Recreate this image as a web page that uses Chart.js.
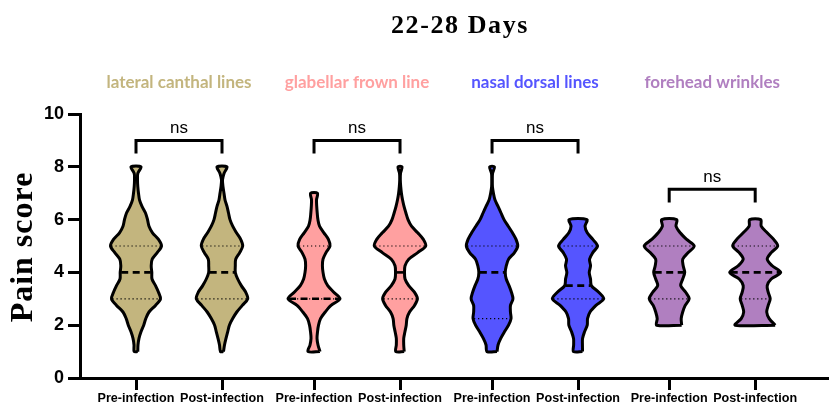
<!DOCTYPE html>
<html>
<head>
<meta charset="utf-8">
<script src="https://cdn.jsdelivr.net/npm/chart.js@4.4.1/dist/chart.umd.min.js"></script>
<style>
  html, body { margin: 0; padding: 0; background: #fff; }
  canvas { display: block; }
</style>
</head>
<body>
<canvas id="c" width="829" height="405"></canvas>
<script>
// ---- chart text ----
const chartTitle = '22-28 Days';
const yTitle = 'Pain score';
const groups = ['lateral canthal lines', 'glabellar frown line', 'nasal dorsal lines', 'forehead wrinkles'];
const groupColors = ['#c3b57e', '#ffa0a0', '#5555ff', '#b07fc0'];
const conditions = ['Pre-infection', 'Post-infection'];
const significance = ['ns', 'ns', 'ns', 'ns'];

// ---- axes ----
const xPositions = [1, 2, 3.07, 4.07, 5.14, 6.14, 7.2, 8.2];
const yTicks = [0, 2, 4, 6, 8, 10];

// ---- violin densities: half-width at each pain-score level from 1 to 8 in steps of 0.25
//      (null = outside the observed range) ----
const levels = [1, 1.25, 1.5, 1.75, 2, 2.25, 2.5, 2.75, 3, 3.25, 3.5, 3.75, 4, 4.25, 4.5,
                4.75, 5, 5.25, 5.5, 5.75, 6, 6.25, 6.5, 6.75, 7, 7.25, 7.5, 7.75, 8];
const lateralPre    = [1.8, 2, 3, 5, 7.7, 9.8, 13, 19.5, 24.5, 22.5, 19.5, 16, 15.8, 15.2, 16.2,
                       21.2, 25.5, 22.5, 16.5, 13, 11.5, 9.5, 6, 3.5, 2.5, 1.8, 1.5, 1.8, 5];
const lateralPost   = [1.5, 2.5, 4, 5.7, 7.4, 10.7, 14.8, 20.3, 25.7, 23.7, 19.3, 15.7, 13.3, 13.3, 13.7,
                       17.7, 20.7, 18.7, 14.5, 10.7, 8, 6.5, 5, 3, 2, 1, 0.5, 2, 5];
const glabellarPre  = [6, 4, 3, 3.5, 4.5, 6.5, 11.2, 17, 26, 19.8, 13.7, 10.4, 9, 8.4, 9,
                       12, 16, 14.4, 9.9, 5.5, 3.9, 3.2, 2.7, 2.5, 3.4, null, null, null, null];
const glabellarPost = [4.2, 3.7, 3.7, 4.9, 6.2, 6.9, 9.5, 14.5, 17.4, 14.4, 8.7, 5, 4.5, 5, 8.7,
                       17.7, 25.7, 23.3, 17.7, 11.5, 8, 5.9, 4, 2.5, 1.4, 0.7, 0.3, 0.5, 2];
const nasalPre      = [5, 6, 8.7, 12.4, 16.5, 19, 18.4, 18.4, 20.9, 19.4, 17, 14.2, 13.2, 14.2, 16.5,
                       22.4, 25.7, 24, 20.4, 16.2, 12, 9, 6, 2.9, 1.4, 0.4, 0.3, 0.5, 2.4];
const nasalPost     = [4.5, 4.4, 4.5, 6.5, 9.2, 9.5, 12, 17.9, 25.7, 20.7, 13.3, 12.5, 11.2, 12.5, 11.5,
                       14.8, 19.5, 14.8, 9.2, 7, 8.9, null, null, null, null, null, null, null, null];
const foreheadPre   = [null, null, null, null, 12.5, 12, 13.5, 16, 20, 16.5, 11.5, 13.5, 15.5, 14, 13.5,
                       19, 25, 17.5, 11, 6.8, 7.5, null, null, null, null, null, null, null, null];
const foreheadPost  = [null, null, null, null, 20, 14, 11.5, 13, 15, 13, 12, 16, 25.5, 17, 12,
                       16, 22.5, 18.5, 12, 6, 5.5, null, null, null, null, null, null, null, null];
const violins = [lateralPre, lateralPost, glabellarPre, glabellarPost, nasalPre, nasalPost, foreheadPre, foreheadPost];

// ---- summary statistics ----
const medians   = [4, 4, 3, 4, 4, 3.5, 4, 4];
const quartile1 = [3, 3, 3, 3, 2.25, 3, 3, 3];
const quartile3 = [5, 5, 5, 5, 5, 5, 5, 5];

// ---- comparison brackets ----
const bracketLevels = [9, 9, 9, 7.15];
const bracketDrop = 0.5;

// density units -> x-axis units
const WIDTH_UNIT = 1 / 86;

function widthAt(widths, v) {
  for (let i = 0; i < levels.length - 1; i++) {
    if (v >= levels[i] && v <= levels[i + 1]) {
      const a = widths[i], b = widths[i + 1];
      if (a == null) return b;
      if (b == null) return a;
      const t = (v - levels[i]) / (levels[i + 1] - levels[i]);
      return a + (b - a) * t;
    }
  }
  return 0;
}

function violinOutline(center, widths) {
  const idx = levels.map((_, i) => i).filter(i => widths[i] != null);
  const right = idx.map(i => ({ x: center + widths[i] * WIDTH_UNIT, y: levels[i] }));
  const left = idx.slice().reverse().map(i => ({ x: center - widths[i] * WIDTH_UNIT, y: levels[i] }));
  return [...right, ...left, right[0]];
}

function levelLine(center, widths, v) {
  const w = Math.max(widthAt(widths, v) - 1, 0) * WIDTH_UNIT;
  return [{ x: center - w, y: v }, { x: center + w, y: v }];
}

const datasets = [];
violins.forEach((w, i) => {
  const c = xPositions[i];
  const color = groupColors[Math.floor(i / 2)];
  datasets.push({
    data: violinOutline(c, w),
    borderColor: '#000',
    backgroundColor: color,
    borderWidth: 3,
    fill: 'shape',
    tension: 0.3,
    pointRadius: 0,
    borderJoinStyle: 'round',
    order: 2
  });
  [quartile1[i], quartile3[i]].forEach(q => {
    datasets.push({
      data: levelLine(c, w, q),
      borderColor: '#000',
      borderWidth: 1.2,
      borderDash: [1.2, 2.8],
      pointRadius: 0,
      fill: false,
      order: 1
    });
  });
  datasets.push({
    data: levelLine(c, w, medians[i]),
    borderColor: '#000',
    borderWidth: 2.6,
    borderDash: [7, 4.5],
    pointRadius: 0,
    fill: false,
    order: 0
  });
});

bracketLevels.forEach((b, g) => {
  const p1 = xPositions[2 * g], p2 = xPositions[2 * g + 1];
  datasets.push({
    data: [{ x: p1, y: b - bracketDrop }, { x: p1, y: b }, { x: p2, y: b }, { x: p2, y: b - bracketDrop }],
    borderColor: '#000',
    borderWidth: 3,
    borderJoinStyle: 'miter',
    borderCapStyle: 'butt',
    pointRadius: 0,
    fill: false,
    tension: 0,
    order: 0
  });
});

const xLabels = xPositions.map((_, i) => conditions[i % 2]);

// titles, group names and significance marks
const textLayer = {
  id: 'textLayer',
  afterDraw(chart) {
    const { ctx, scales: { x, y } } = chart;
    ctx.save();
    ctx.fillStyle = '#000';
    ctx.textAlign = 'center';
    ctx.textBaseline = 'alphabetic';

    ctx.font = 'bold 26px "Liberation Serif", "Times New Roman", serif';
    ctx.letterSpacing = '1.6px';
    ctx.fillText(chartTitle, 460, 33);

    ctx.save();
    ctx.translate(32, 247);
    ctx.rotate(-Math.PI / 2);
    ctx.font = 'bold 32px "Liberation Serif", "Times New Roman", serif';
    ctx.letterSpacing = '1px';
    ctx.fillText(yTitle, 0, 0);
    ctx.restore();

    ctx.letterSpacing = '0px';
    ctx.font = 'bold 17px Lato, "Open Sans", sans-serif';
    groups.forEach((name, g) => {
      const cx = x.getPixelForValue((xPositions[2 * g] + xPositions[2 * g + 1]) / 2);
      ctx.fillStyle = groupColors[g];
      ctx.fillText(name, cx, 88);
    });

    ctx.fillStyle = '#000';
    ctx.font = '17px "Liberation Sans", Arial, sans-serif';
    significance.forEach((s, g) => {
      const cx = x.getPixelForValue((xPositions[2 * g] + xPositions[2 * g + 1]) / 2);
      ctx.fillText(s, cx, y.getPixelForValue(bracketLevels[g]) - 7);
    });
    ctx.restore();
  }
};

new Chart(document.getElementById('c'), {
  type: 'line',
  data: { datasets },
  options: {
    responsive: false,
    devicePixelRatio: 1,
    animation: false,
    layout: { padding: { top: 114, right: 0, bottom: 0, left: 0 } },
    plugins: { legend: { display: false }, tooltip: { enabled: false }, title: { display: false } },
    scales: {
      x: {
        type: 'linear',
        min: 1 + (80 - 136) / 86,
        max: 1 + (829 - 136) / 86,
        afterFit: s => { s.height = 27; },
        afterBuildTicks: s => { s.ticks = xPositions.map(v => ({ value: v })); },
        border: { display: true, color: '#000', width: 3 },
        grid: { display: true, drawOnChartArea: false, drawTicks: true, tickLength: 12, tickWidth: 3, tickColor: '#000' },
        ticks: {
          autoSkip: false,
          maxRotation: 0,
          padding: 1,
          color: '#000',
          font: { family: '"Liberation Sans", Arial, sans-serif', size: 12.6, weight: 'bold' },
          callback: (v, i) => xLabels[i]
        }
      },
      y: {
        min: 0,
        max: 10,
        afterFit: s => { s.width = 80; },
        afterBuildTicks: s => { s.ticks = yTicks.map(v => ({ value: v })); },
        border: { display: true, color: '#000', width: 3 },
        grid: { display: true, drawOnChartArea: false, drawTicks: true, tickLength: 12, tickWidth: 3, tickColor: '#000' },
        ticks: {
          padding: 4,
          color: '#000',
          font: { family: '"Liberation Sans", Arial, sans-serif', size: 18, weight: 'bold' }
        }
      }
    }
  },
  plugins: [textLayer]
});
</script>
</body>
</html>
